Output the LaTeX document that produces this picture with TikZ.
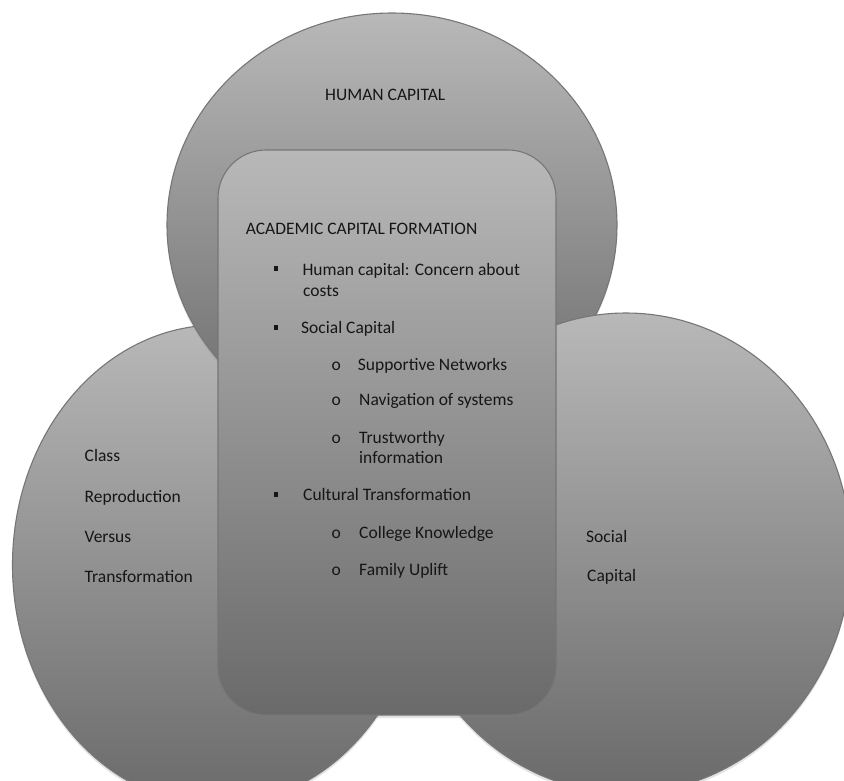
\documentclass[tikz,border=0pt]{standalone}
\usepackage{fontspec}
\setmainfont{Carlito}
\usetikzlibrary{shadows}
\definecolor{lightg}{RGB}{184,184,184}
\definecolor{darkg}{RGB}{106,106,106}
\definecolor{edgeg}{RGB}{118,118,118}
\definecolor{txt}{RGB}{22,22,22}
\begin{document}
\begin{tikzpicture}[x=1pt,y=-1pt,
  blob/.style={draw=edgeg, line width=1.1pt, top color=lightg, bottom color=darkg,
    drop shadow={opacity=0.22, shadow xshift=0pt, shadow yshift=-3pt}},
  lbl/.style={anchor=base west, inner sep=0pt, font=\fontsize{17.5}{21}\selectfont, text=txt},
  sq/.style={fill=txt, minimum size=4.6pt, inner sep=0pt},
]
\clip (0,0) rectangle (844,780);
\fill[white] (0,0) rectangle (844,780);
% circles (ellipses)
\path[blob] (217.5,565) ellipse [x radius=205, y radius=240];
\path[blob] (392,225) ellipse [x radius=225, y radius=212];
\path[blob] (626,553) ellipse [x radius=225, y radius=240];
% central rounded box
\path[blob, rounded corners=48pt] (218,150) rectangle (556,715);
% texts
\node[lbl] (hc) at (325,100.7) {HUMAN CAPITAL};
\node[lbl] (acf) at (245.7,234.3) {ACADEMIC CAPITAL FORMATION};
\node[sq] (s1) at (276,268.3) {};
\node[lbl] (t1) at (302.3,275) {Human capital: Concern about};
\node[lbl] (t1b) at (303,296) {costs};
\node[sq] (s2) at (276,327.5) {};
\node[lbl] (t2) at (301,333.3) {Social Capital};
\node[lbl] (o1) at (331.5,370) {o};
\node[lbl] (t3) at (357.7,370) {Supportive Networks};
\node[lbl] (o2) at (331.5,405.3) {o};
\node[lbl] (t4) at (359,405.3) {Navigation of systems};
\node[lbl] (o3) at (331.5,443.3) {o};
\node[lbl] (t5) at (359,443.3) {Trustworthy};
\node[lbl] (t5b) at (359,463.3) {information};
\node[sq] (s3) at (276,494.5) {};
\node[lbl] (t6) at (303,500.7) {Cultural Transformation};
\node[lbl] (o4) at (331.5,538.3) {o};
\node[lbl] (t7) at (359,538.3) {College Knowledge};
\node[lbl] (o5) at (331.5,575) {o};
\node[lbl] (t8) at (359,575) {Family Uplift};
% left circle
\node[lbl] (l1) at (84.5,461.7) {Class};
\node[lbl] (l2) at (84.5,502.3) {Reproduction};
\node[lbl] (l3) at (84.5,542.3) {Versus};
\node[lbl] (l4) at (84.5,582.7) {Transformation};
% right circle
\node[lbl] (r1) at (586,542.3) {Social};
\node[lbl] (r2) at (587,581) {Capital};
\end{tikzpicture}
\end{document}
